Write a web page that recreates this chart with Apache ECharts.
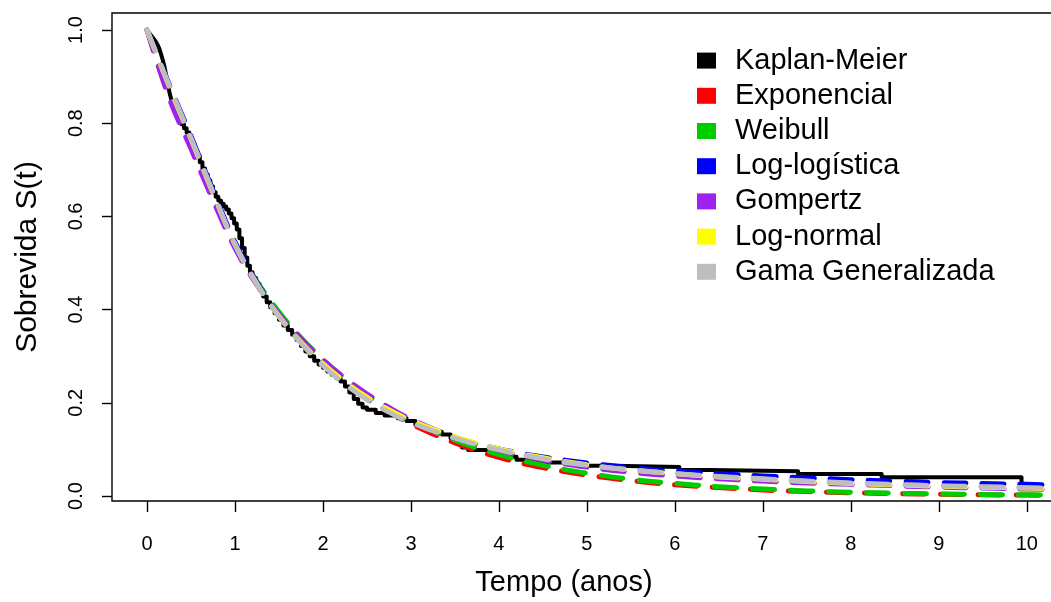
<!DOCTYPE html>
<html>
<head>
<meta charset="utf-8">
<script src="https://cdn.jsdelivr.net/npm/echarts@6/dist/echarts.min.js"></script>
<style>
  html, body { margin: 0; padding: 0; background: #fff; }
  #chart { width: 1051px; height: 602px; }
</style>
</head>
<body>
<div id="chart"></div>
<script>
// ---- Data ----
const xTicks = [0, 1, 2, 3, 4, 5, 6, 7, 8, 9, 10];
const yTicks = [0, 0.2, 0.4, 0.6, 0.8, 1.0];

// Kaplan-Meier step function: jump times and survival after the jump
const kmTime = [0, 0.02, 0.04, 0.06, 0.08, 0.10, 0.12, 0.14, 0.16, 0.18, 0.20, 0.22, 0.24, 0.26, 0.28, 0.30, 0.33, 0.36, 0.39, 0.42, 0.45, 0.48, 0.51, 0.54, 0.57, 0.60, 0.63, 0.66, 0.69, 0.72, 0.75, 0.78, 0.81, 0.84, 0.87, 0.90, 0.93, 0.96, 0.99, 1.02, 1.05, 1.08, 1.11, 1.14, 1.17, 1.20, 1.24, 1.28, 1.32, 1.36, 1.40, 1.45, 1.50, 1.55, 1.60, 1.65, 1.70, 1.75, 1.80, 1.85, 1.90, 1.95, 2.00, 2.05, 2.10, 2.15, 2.20, 2.25, 2.30, 2.35, 2.40, 2.45, 2.50, 2.60, 2.70, 2.85, 2.95, 3.05, 3.15, 3.25, 3.35, 3.45, 3.52, 3.58, 3.65, 4.00, 4.06, 4.20, 4.40, 4.90, 5.30, 6.05, 6.40, 7.40, 8.35, 9.94];
const kmSurv = [1.0, 0.995, 0.99, 0.985, 0.98, 0.975, 0.968, 0.96, 0.948, 0.935, 0.92, 0.90, 0.88, 0.862, 0.848, 0.836, 0.822, 0.808, 0.798, 0.789, 0.78, 0.769, 0.756, 0.742, 0.729, 0.716, 0.703, 0.69, 0.677, 0.664, 0.652, 0.642, 0.634, 0.627, 0.621, 0.615, 0.606, 0.596, 0.585, 0.572, 0.553, 0.532, 0.512, 0.494, 0.48, 0.468, 0.455, 0.442, 0.428, 0.416, 0.405, 0.392, 0.378, 0.366, 0.356, 0.346, 0.335, 0.322, 0.31, 0.30, 0.29, 0.282, 0.275, 0.267, 0.26, 0.253, 0.246, 0.235, 0.222, 0.208, 0.198, 0.19, 0.185, 0.178, 0.173, 0.167, 0.161, 0.153, 0.145, 0.138, 0.132, 0.124, 0.115, 0.104, 0.099, 0.092, 0.084, 0.078, 0.072, 0.065, 0.062, 0.056, 0.053, 0.047, 0.04, 0.028];

// Fitted model curves, sampled at these times
const tGrid = [0, 0.25, 0.5, 0.75, 1, 1.25, 1.5, 1.75, 2, 2.25, 2.5, 2.75, 3, 3.5, 4, 4.5, 5, 5.5, 6, 6.5, 7, 7.5, 8, 8.5, 9, 9.5, 10, 10.5];
const sExponencial  = [1, 0.868, 0.755, 0.642, 0.535, 0.455, 0.389, 0.334, 0.287, 0.246, 0.211, 0.181, 0.155, 0.114, 0.083, 0.061, 0.045, 0.033, 0.024, 0.018, 0.013, 0.0095, 0.007, 0.005, 0.0037, 0.0027, 0.002, 0.0015];
const sWeibull      = [1, 0.866, 0.754, 0.643, 0.538, 0.460, 0.395, 0.340, 0.293, 0.252, 0.217, 0.187, 0.161, 0.120, 0.089, 0.066, 0.049, 0.036, 0.027, 0.020, 0.015, 0.011, 0.008, 0.006, 0.0045, 0.0034, 0.0025, 0.0019];
const sLogLogistica = [1, 0.884, 0.772, 0.656, 0.545, 0.458, 0.388, 0.331, 0.282, 0.241, 0.208, 0.181, 0.158, 0.125, 0.101, 0.084, 0.071, 0.061, 0.054, 0.048, 0.043, 0.039, 0.035, 0.032, 0.029, 0.027, 0.025, 0.023];
const sGompertz     = [1, 0.855, 0.745, 0.635, 0.532, 0.453, 0.390, 0.338, 0.292, 0.253, 0.219, 0.190, 0.165, 0.126, 0.098, 0.077, 0.062, 0.051, 0.043, 0.037, 0.032, 0.028, 0.025, 0.022, 0.019, 0.017, 0.015, 0.014];
const sLogNormal    = [1, 0.880, 0.766, 0.650, 0.540, 0.455, 0.386, 0.330, 0.284, 0.245, 0.212, 0.185, 0.162, 0.127, 0.101, 0.082, 0.067, 0.056, 0.048, 0.041, 0.036, 0.031, 0.027, 0.024, 0.021, 0.019, 0.017, 0.015];
const sGamaGen      = [1, 0.882, 0.768, 0.652, 0.540, 0.455, 0.385, 0.328, 0.280, 0.240, 0.207, 0.180, 0.158, 0.124, 0.099, 0.080, 0.066, 0.056, 0.048, 0.042, 0.037, 0.032, 0.028, 0.025, 0.022, 0.020, 0.018, 0.016];

const seriesNames = ['Kaplan-Meier', 'Exponencial', 'Weibull', 'Log-logística', 'Gompertz', 'Log-normal', 'Gama Generalizada'];
const seriesColors = ['#000000', '#FF0000', '#00CD00', '#0000FF', '#A020F0', '#FFFF00', '#BEBEBE'];
const modelValues = [sExponencial, sWeibull, sLogLogistica, sGompertz, sLogNormal, sGamaGen];

// ---- Chart ----
const FONT = 'Liberation Sans, Arial, sans-serif';
const chart = echarts.init(document.getElementById('chart'), null, { renderer: 'canvas' });

const series = [];
series.push({
  name: seriesNames[0],
  type: 'line',
  step: 'end',
  data: kmTime.map((t, i) => [t, kmSurv[i]]),
  showSymbol: false,
  itemStyle: { color: seriesColors[0] },
  lineStyle: { color: seriesColors[0], width: 4, join: 'round' },
  z: 2,
  animation: false
});
modelValues.forEach((vals, k) => {
  series.push({
    name: seriesNames[k + 1],
    type: 'line',
    smooth: 0.4,
    data: tGrid.map((t, i) => [t, vals[i]]),
    showSymbol: false,
    itemStyle: { color: seriesColors[k + 1] },
    lineStyle: { color: seriesColors[k + 1], width: 5, type: [22, 16], cap: 'round', join: 'round' },
    z: 3 + k,
    animation: false
  });
});

const option = {
  backgroundColor: '#ffffff',
  animation: false,
  grid: {
    left: 112, top: 13, right: -11, bottom: 101,
    outerBoundsMode: 'none',
    containLabel: false,
    show: true, borderColor: '#000', borderWidth: 1.4, backgroundColor: 'transparent'
  },
  legend: {
    orient: 'vertical',
    left: 697, top: 43,
    padding: 0,
    itemGap: 0,
    itemWidth: 19, itemHeight: 16,
    icon: 'rect',
    data: seriesNames,
    itemStyle: { borderWidth: 0 },
    textStyle: { fontFamily: FONT, fontSize: 29, color: '#000', lineHeight: 35.2, padding: [0, 0, 0, 14] }
  },
  xAxis: {
    type: 'value',
    min: -0.398, max: 10.4,
    name: 'Tempo (anos)',
    nameLocation: 'middle',
    nameGap: 67,
    nameTextStyle: { fontFamily: FONT, fontSize: 29, color: '#000', padding: [0, 46, 0, 0] },
    axisLine: { show: false, onZero: false },
    splitLine: { show: false },
    axisTick: { show: true, length: 11, customValues: xTicks, lineStyle: { color: '#000', width: 1.4 } },
    axisLabel: { customValues: xTicks, margin: 33, fontFamily: FONT, fontSize: 20, color: '#000', formatter: v => String(v) }
  },
  yAxis: {
    type: 'value',
    min: -0.0107, max: 1.0365,
    name: 'Sobrevida S(t)',
    nameLocation: 'middle',
    nameGap: 69,
    nameTextStyle: { fontFamily: FONT, fontSize: 30, color: '#000' },
    axisLine: { show: false, onZero: false },
    splitLine: { show: false },
    axisTick: { show: true, length: 10, customValues: yTicks, lineStyle: { color: '#000', width: 1.4 } },
    axisLabel: { customValues: yTicks, rotate: 90, margin: 26, fontFamily: FONT, fontSize: 20, color: '#000', formatter: v => v.toFixed(1) }
  },
  series: series
};
chart.setOption(option);
</script>
</body>
</html>
